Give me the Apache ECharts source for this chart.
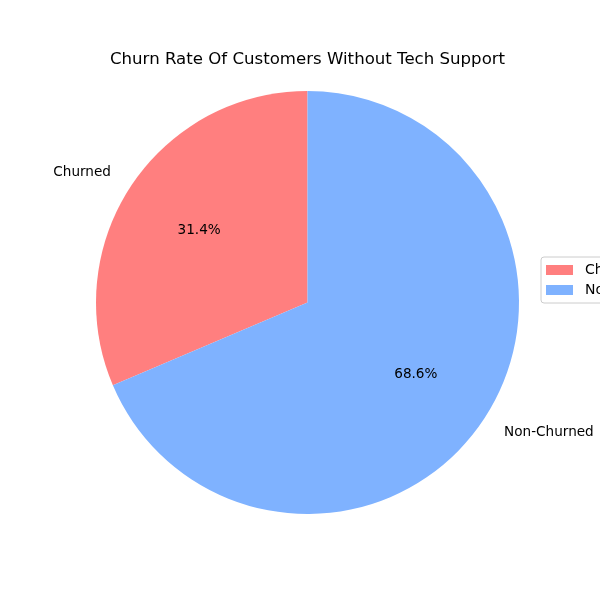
<!DOCTYPE html>
<html>
<head>
<meta charset="utf-8">
<script src="https://cdn.jsdelivr.net/npm/echarts@6/dist/echarts.min.js"></script>
<style>
  html, body { margin: 0; padding: 0; background: #fff; }
  #chart { width: 600px; height: 600px; }
</style>
</head>
<body>
<div id="chart"></div>
<script>
const categories = ['Churned', 'Non-Churned'];
const values = [31.4, 68.6];
const colors = ['#ff7f7f', '#7fb2ff'];

const font = 'DejaVu Sans';
const center = [307.5, 302.5];
const R = 211.5;

const chart = echarts.init(document.getElementById('chart'));

const pieData = categories.map((name, i) => ({
  name,
  value: values[i],
  itemStyle: { color: colors[i] }
}));

chart.setOption({
  animation: false,
  textStyle: { fontFamily: font },
  title: {
    text: 'Churn Rate Of Customers Without Tech Support',
    left: 105,
    top: 46,
    textStyle: { fontFamily: font, fontSize: 16.6, fontWeight: 'normal', color: '#000' }
  },
  legend: {
    orient: 'vertical',
    left: 541,
    top: 257,
    padding: [6, 8, 6, 5],
    borderColor: '#cccccc',
    borderWidth: 1,
    borderRadius: 3,
    itemWidth: 27,
    itemHeight: 10,
    itemGap: 6,
    icon: 'rect',
    data: categories,
    textStyle: { fontFamily: font, fontSize: 14, color: '#000', padding: [0, 0, 0, 7] }
  },
  series: [
    {
      // actual pie
      type: 'pie',
      center,
      radius: [0, R],
      startAngle: 90,
      clockwise: false,
      silent: true,
      label: { show: false },
      labelLine: { show: false },
      data: pieData
    },
    {
      // percentage labels at 0.6 R
      type: 'pie',
      center,
      radius: [0, R * 1.2],
      startAngle: 90,
      clockwise: false,
      silent: true,
      legendHoverLink: false,
      itemStyle: { color: 'transparent' },
      label: {
        show: true,
        position: 'inside',
        formatter: p => p.value.toFixed(1) + '%',
        fontFamily: font,
        fontSize: 13.6,
        color: '#000'
      },
      labelLine: { show: false },
      data: categories.map((name, i) => ({ name: name + ' ', value: values[i] }))
    },
    {
      // category labels at 1.1 R, aligned away from the centre
      type: 'pie',
      center,
      radius: [0, R * 2.2],
      startAngle: 90,
      clockwise: false,
      silent: true,
      legendHoverLink: false,
      itemStyle: { color: 'transparent' },
      label: {
        show: true,
        position: 'inside',
        formatter: p => p.name.trim(),
        fontFamily: font,
        fontSize: 13.6,
        color: '#000'
      },
      labelLayout: p => ({ dx: (p.dataIndex === 0 ? -1 : 1) * p.labelRect.width / 2 }),
      labelLine: { show: false },
      data: categories.map((name, i) => ({ name: name + '  ', value: values[i] }))
    }
  ]
});
</script>
</body>
</html>
